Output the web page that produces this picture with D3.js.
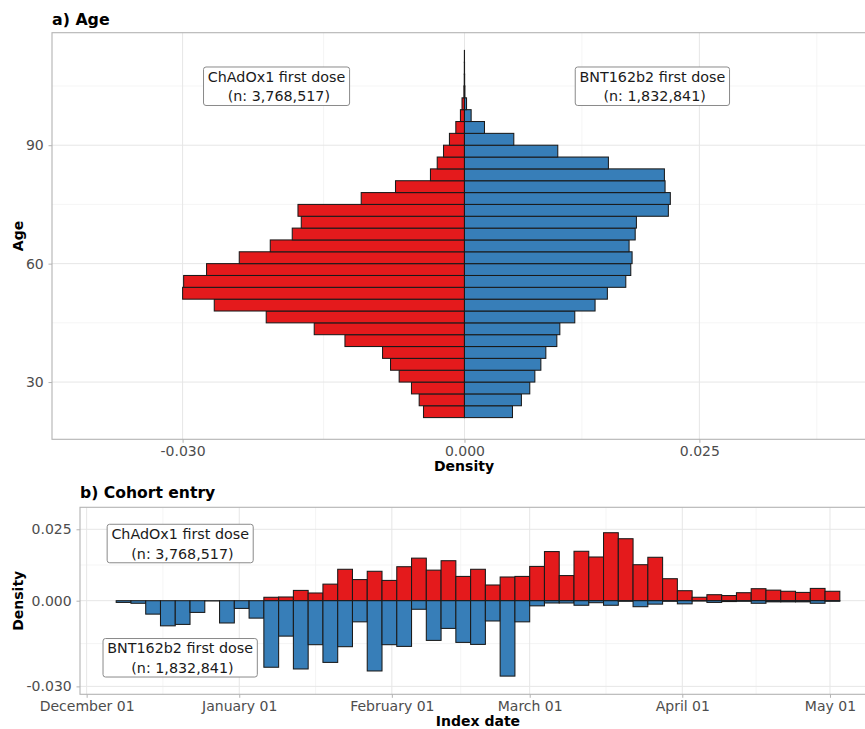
<!DOCTYPE html>
<html>
<head>
<meta charset="utf-8">
<script src="https://cdn.jsdelivr.net/npm/d3@7"></script>
<style>
  body { margin: 0; background: #fff; }
  text { font-family: "DejaVu Sans", sans-serif; }
</style>
</head>
<body>
<svg id="chart" width="865" height="729"></svg>
<script>
// ---- Panel a) Age: 3-year age bins, density per year ----
const ageBinStart = [21, 24, 27, 30, 33, 36, 39, 42, 45, 48, 51, 54, 57, 60, 63, 66,
                     69, 72, 75, 78, 81, 84, 87, 90, 93, 96, 99, 102, 105, 108, 111];
const ageBinWidth = 3;
const ageChAdOx1 = [0.00436, 0.00482, 0.00564, 0.00695, 0.00787, 0.00872, 0.01272, 0.01599,
                    0.02110, 0.02663, 0.03000, 0.02989, 0.02745, 0.02397, 0.02067, 0.01833,
                    0.01737, 0.01772, 0.01099, 0.00734, 0.00362, 0.00290, 0.00223, 0.00160,
                    0.00092, 0.00043, 0.00026, 0.00006, 0.00002, 0.00001, 0.000004];
const ageBNT162b2 = [0.00511, 0.00606, 0.00695, 0.00749, 0.00813, 0.00866, 0.00983, 0.01015,
                     0.01174, 0.01390, 0.01521, 0.01717, 0.01770, 0.01784, 0.01752, 0.01817,
                     0.01830, 0.02170, 0.02191, 0.02135, 0.02128, 0.01532, 0.00993, 0.00525,
                     0.00213, 0.00071, 0.00022, 0.00005, 0.00002, 0.000008, 0.000003];
const ageTicks = [30, 60, 90];
const ageMinorTicks = [45, 75, 105];
const ageDensityTicks = [-0.030, 0.000, 0.025];
const ageDensityMinorTicks = [-0.015, 0.0125, 0.0375];

// ---- Panel b) Cohort entry: 3-day bins of index date ----
const entryBinStart = [
  "2020-12-07", "2020-12-10", "2020-12-13", "2020-12-16", "2020-12-19", "2020-12-22",
  "2020-12-25", "2020-12-28", "2020-12-31", "2021-01-03", "2021-01-06", "2021-01-09",
  "2021-01-12", "2021-01-15", "2021-01-18", "2021-01-21", "2021-01-24", "2021-01-27",
  "2021-01-30", "2021-02-02", "2021-02-05", "2021-02-08", "2021-02-11", "2021-02-14",
  "2021-02-17", "2021-02-20", "2021-02-23", "2021-02-26", "2021-03-01", "2021-03-04",
  "2021-03-07", "2021-03-10", "2021-03-13", "2021-03-16", "2021-03-19", "2021-03-22",
  "2021-03-25", "2021-03-28", "2021-03-31", "2021-04-03", "2021-04-06", "2021-04-09",
  "2021-04-12", "2021-04-15", "2021-04-18", "2021-04-21", "2021-04-24", "2021-04-27",
  "2021-04-30"];
const entryBinDays = 3;
const entryChAdOx1 = [0, 0, 0, 0, 0, 0, 0, 0, 0, 0,
  0.0012, 0.0013, 0.0036, 0.0027, 0.0058, 0.0110, 0.0074, 0.0103, 0.0071, 0.0119,
  0.0149, 0.0107, 0.0140, 0.0085, 0.0110, 0.0055, 0.0083, 0.0085, 0.0120, 0.0172,
  0.0088, 0.0173, 0.0153, 0.0238, 0.0217, 0.0126, 0.0152, 0.0077, 0.0035, 0.0012,
  0.0021, 0.0018, 0.0028, 0.0042, 0.0037, 0.0033, 0.0029, 0.0043, 0.0033];
const entryBNT162b2 = [0.0006, 0.0009, 0.0047, 0.0088, 0.0083, 0.0041, 0.0001, 0.0078, 0.0027, 0.0061,
  0.0233, 0.0124, 0.0239, 0.0154, 0.0216, 0.0161, 0.0074, 0.0246, 0.0154, 0.0160,
  0.0030, 0.0139, 0.0097, 0.0146, 0.0153, 0.0071, 0.0264, 0.0074, 0.0018, 0.0008,
  0.0008, 0.0016, 0.0007, 0.0016, 0.0002, 0.0021, 0.0012, 0.0002, 0.0011, 0.0001,
  0.0006, 0.0003, 0.0002, 0.0009, 0.0004, 0.0004, 0.0004, 0.0009, 0.0002];
const entryDensityTicks = [-0.030, 0.000, 0.025];
const entryDensityMinorTicks = [-0.015, 0.0125];
const dateTicks = ["2020-12-01", "2021-01-01", "2021-02-01", "2021-03-01", "2021-04-01", "2021-05-01"];

// Labels
const groupNames = ["ChAdOx1 first dose", "BNT162b2 first dose"];
const groupCounts = ["3,768,517", "1,832,841"];
const colours = { ChAdOx1: "#E41A1C", BNT162b2: "#377EB8" };

// ---- shared styling ----
const svg = d3.select("#chart");
const tickColour = "#b3b3b3";
const tickTextColour = "#4d4d4d";
const gridMajor = "#e6e6e6";
const gridMinor = "#f2f2f2";
const barStroke = "#1a1a1a";
const barStrokeWidth = 1.05;
const parseDay = d3.utcParse("%Y-%m-%d");

function panelFrame(g, x0, y0, x1, y1) {
  g.append("rect").attr("x", x0).attr("y", y0)
    .attr("width", x1 - x0).attr("height", y1 - y0)
    .attr("fill", "none").attr("stroke", tickColour).attr("stroke-width", 1.1);
}

function styleAxis(ax) {
  ax.select(".domain").remove();
  ax.selectAll(".tick line").attr("stroke", tickColour).attr("stroke-width", 1);
  ax.selectAll(".tick text").attr("fill", tickTextColour)
    .attr("font-size", "14px").attr("font-family", "DejaVu Sans");
}

function addLabel(g, cx, top, lines) {
  const lg = g.append("g");
  const box = lg.append("rect");
  const t1 = lg.append("text").attr("x", cx).attr("y", top + 14.8)
    .attr("text-anchor", "middle").attr("font-size", "14.3px").attr("fill", "#1a1a1a")
    .text(lines[0]);
  const t2 = lg.append("text").attr("x", cx).attr("y", top + 34.4)
    .attr("text-anchor", "middle").attr("font-size", "14.3px").attr("fill", "#1a1a1a")
    .style("white-space", "pre")
    .text(lines[1]);
  const w = Math.max(t1.node().getComputedTextLength(), t2.node().getComputedTextLength()) + 8.5;
  box.attr("x", cx - w / 2).attr("y", top).attr("width", w).attr("height", 38.5)
    .attr("rx", 2.5).attr("fill", "#fff").attr("stroke", "#8a8a8a").attr("stroke-width", 1);
}

// ================= Panel a) Age =================
(function () {
  const L = 52, R = 876, T = 32.7, B = 439.3;
  const x = d3.scaleLinear().domain([-0.0439, 0.0438]).range([L, R]);
  const y = d3.scaleLinear().domain([15.5, 118.5]).range([B, T]);
  const g = svg.append("g");

  // grid
  g.selectAll(".vminor").data(ageDensityMinorTicks).join("line")
    .attr("x1", d => x(d)).attr("x2", d => x(d)).attr("y1", T).attr("y2", B)
    .attr("stroke", gridMinor).attr("stroke-width", 0.8);
  g.selectAll(".hminor").data(ageMinorTicks).join("line")
    .attr("x1", L).attr("x2", R).attr("y1", d => y(d)).attr("y2", d => y(d))
    .attr("stroke", gridMinor).attr("stroke-width", 0.8);
  g.selectAll(".vmajor").data(ageDensityTicks).join("line")
    .attr("x1", d => x(d)).attr("x2", d => x(d)).attr("y1", T).attr("y2", B)
    .attr("stroke", gridMajor).attr("stroke-width", 1);
  g.selectAll(".hmajor").data(ageTicks).join("line")
    .attr("x1", L).attr("x2", R).attr("y1", d => y(d)).attr("y2", d => y(d))
    .attr("stroke", gridMajor).attr("stroke-width", 1);

  // bars
  const rows = ageBinStart.map((a, i) => ({ a, left: ageChAdOx1[i], right: ageBNT162b2[i] }));
  g.selectAll(".barL").data(rows).join("rect")
    .attr("x", d => x(-d.left)).attr("width", d => x(0) - x(-d.left))
    .attr("y", d => y(d.a + ageBinWidth)).attr("height", d => y(d.a) - y(d.a + ageBinWidth))
    .attr("fill", colours.ChAdOx1).attr("stroke", barStroke).attr("stroke-width", barStrokeWidth);
  g.selectAll(".barR").data(rows).join("rect")
    .attr("x", x(0)).attr("width", d => x(d.right) - x(0))
    .attr("y", d => y(d.a + ageBinWidth)).attr("height", d => y(d.a) - y(d.a + ageBinWidth))
    .attr("fill", colours.BNT162b2).attr("stroke", barStroke).attr("stroke-width", barStrokeWidth);

  panelFrame(g, L, T, R, B);

  // axes
  const ax = g.append("g").attr("transform", `translate(0,${B})`)
    .call(d3.axisBottom(x).tickValues(ageDensityTicks).tickSize(3.5).tickFormat(d => d.toFixed(3)));
  styleAxis(ax);
  ax.selectAll(".tick text").attr("y", 16.5).attr("dy", 0);

  const ay = g.append("g").attr("transform", `translate(${L},0)`)
    .call(d3.axisLeft(y).tickValues(ageTicks).tickSize(3.5));
  styleAxis(ay);
  ay.selectAll(".tick text").attr("x", -8.3);

  // titles
  svg.append("text").attr("x", L).attr("y", 24.5).attr("font-size", "15.8px")
    .attr("font-weight", "bold").attr("fill", "#000").text("a) Age");
  svg.append("text").attr("x", (L + R) / 2).attr("y", 471).attr("text-anchor", "middle")
    .attr("font-size", "14px").attr("font-weight", "bold").attr("fill", "#000").text("Density");
  svg.append("text").attr("transform", `translate(23,${(T + B) / 2}) rotate(-90)`)
    .attr("text-anchor", "middle").attr("font-size", "14px").attr("font-weight", "bold")
    .attr("fill", "#000").text("Age");

  // group labels
  addLabel(g, x(-0.020), y(105) - 19, [groupNames[0], " (n: " + groupCounts[0] + ")"]);
  addLabel(g, x(0.020), y(105) - 19, [groupNames[1], " (n: " + groupCounts[1] + ")"]);
})();

// ================= Panel b) Cohort entry =================
(function () {
  const L = 80, R = 876, T = 507.3, B = 694.3;
  const d0 = parseDay("2020-12-01");
  const day = 864e5;
  const x = d3.scaleUtc()
    .domain([new Date(+d0 - 1.35 * day), new Date(+d0 + 160.35 * day)])
    .range([L, R]);
  const y = d3.scaleLinear().domain([-0.03277, 0.0327]).range([B, T]);
  const g = svg.append("g");

  const majorDates = dateTicks.map(parseDay);
  const minorDates = d3.pairs(majorDates).map(([a, b]) => new Date((+a + +b) / 2));

  g.selectAll(".vminor").data(minorDates).join("line")
    .attr("x1", d => x(d)).attr("x2", d => x(d)).attr("y1", T).attr("y2", B)
    .attr("stroke", gridMinor).attr("stroke-width", 0.8);
  g.selectAll(".hminor").data(entryDensityMinorTicks).join("line")
    .attr("x1", L).attr("x2", R).attr("y1", d => y(d)).attr("y2", d => y(d))
    .attr("stroke", gridMinor).attr("stroke-width", 0.8);
  g.selectAll(".vmajor").data(majorDates).join("line")
    .attr("x1", d => x(d)).attr("x2", d => x(d)).attr("y1", T).attr("y2", B)
    .attr("stroke", gridMajor).attr("stroke-width", 1);
  g.selectAll(".hmajor").data(entryDensityTicks).join("line")
    .attr("x1", L).attr("x2", R).attr("y1", d => y(d)).attr("y2", d => y(d))
    .attr("stroke", gridMajor).attr("stroke-width", 1);

  const rows = entryBinStart.map((s, i) => {
    const start = parseDay(s);
    return { start, end: d3.utcDay.offset(start, entryBinDays), up: entryChAdOx1[i], down: entryBNT162b2[i] };
  });
  g.selectAll(".barUp").data(rows).join("rect")
    .attr("x", d => x(d.start)).attr("width", d => x(d.end) - x(d.start))
    .attr("y", d => y(d.up)).attr("height", d => y(0) - y(d.up))
    .attr("fill", colours.ChAdOx1).attr("stroke", barStroke).attr("stroke-width", barStrokeWidth);
  g.selectAll(".barDown").data(rows).join("rect")
    .attr("x", d => x(d.start)).attr("width", d => x(d.end) - x(d.start))
    .attr("y", y(0)).attr("height", d => y(-d.down) - y(0))
    .attr("fill", colours.BNT162b2).attr("stroke", barStroke).attr("stroke-width", barStrokeWidth);

  panelFrame(g, L, T, R, B);

  const ax = g.append("g").attr("transform", `translate(0,${B})`)
    .call(d3.axisBottom(x).tickValues(majorDates).tickSize(3.5).tickFormat(d3.utcFormat("%B %d")));
  styleAxis(ax);
  ax.selectAll(".tick text").attr("y", 16.8).attr("dy", 0);

  const ay = g.append("g").attr("transform", `translate(${L},0)`)
    .call(d3.axisLeft(y).tickValues(entryDensityTicks).tickSize(3.5).tickFormat(d => d.toFixed(3)));
  styleAxis(ay);
  ay.selectAll(".tick text").attr("x", -8.3);

  svg.append("text").attr("x", L).attr("y", 498.3).attr("font-size", "15.6px")
    .attr("font-weight", "bold").attr("fill", "#000").text("b) Cohort entry");
  svg.append("text").attr("x", (L + R) / 2).attr("y", 726).attr("text-anchor", "middle")
    .attr("font-size", "14px").attr("font-weight", "bold").attr("fill", "#000").text("Index date");
  svg.append("text").attr("transform", `translate(23,${(T + B) / 2}) rotate(-90)`)
    .attr("text-anchor", "middle").attr("font-size", "14px").attr("font-weight", "bold")
    .attr("fill", "#000").text("Density");

  const labelDate = parseDay("2020-12-20");
  addLabel(g, x(labelDate), y(0.020) - 19.3, [groupNames[0], " (n: " + groupCounts[0] + ")"]);
  addLabel(g, x(labelDate), y(-0.020) - 19.3, [groupNames[1], " (n: " + groupCounts[1] + ")"]);
})();
</script>
</body>
</html>
